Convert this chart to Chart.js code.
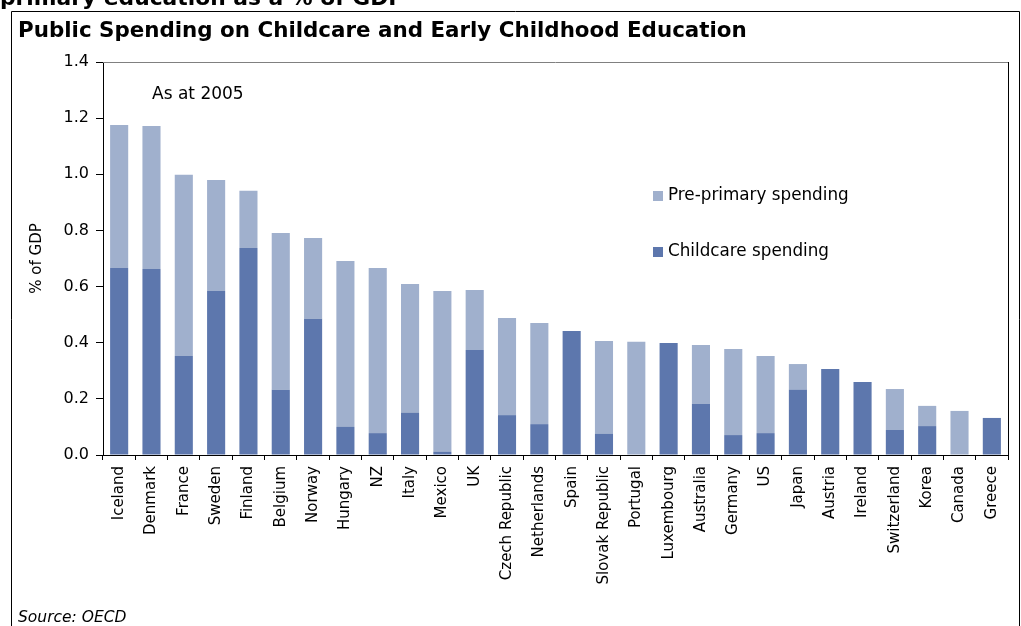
<!DOCTYPE html>
<html>
<head>
<meta charset="utf-8">
<script src="https://cdn.jsdelivr.net/npm/chart.js@4.4.1/dist/chart.umd.min.js"></script>
<style>
  html, body { margin: 0; padding: 0; background: #fff; }
  #wrap { width: 1021px; height: 626px; position: relative; }
</style>
</head>
<body>
<div id="wrap"><canvas id="c" width="1021" height="626"></canvas></div>
<script>
const countries = ["Iceland","Denmark","France","Sweden","Finland","Belgium","Norway","Hungary","NZ","Italy","Mexico","UK","Czech Republic","Netherlands","Spain","Slovak Republic","Portugal","Luxembourg","Australia","Germany","US","Japan","Austria","Ireland","Switzerland","Korea","Canada","Greece"];
const childcare = [0.666,0.663,0.353,0.584,0.737,0.232,0.485,0.100,0.078,0.150,0.011,0.374,0.142,0.110,0.442,0.075,0.000,0.399,0.182,0.071,0.078,0.232,0.306,0.260,0.089,0.103,0.000,0.132];
const prePrimary = [0.510,0.509,0.645,0.396,0.204,0.559,0.288,0.591,0.588,0.459,0.573,0.214,0.346,0.360,0.000,0.331,0.403,0.000,0.210,0.307,0.275,0.092,0.000,0.000,0.146,0.072,0.157,0.000];
const yTicks = [0.0,0.2,0.4,0.6,0.8,1.0,1.2,1.4];
const seriesNames = ["Childcare spending","Pre-primary spending"];
const chartTitle = "Public Spending on Childcare and Early Childhood Education";
const topCaption = "primary education as a % of GDP";
const noteText = "As at 2005";
const sourceText = "Source: OECD";
const yTitle = "% of GDP";

const DARK = "rgb(93,119,173)";
const LIGHT = "rgb(160,176,205)";
const FONT = "'DejaVu Sans', Verdana, sans-serif";

const decor = {
  id: "decor",
  afterDraw(chart) {
    const ctx = chart.ctx;
    const a = chart.chartArea;
    ctx.save();
    ctx.lineWidth = 1;
    ctx.strokeStyle = "#808080";
    ctx.beginPath(); ctx.moveTo(a.left, a.top + 0.5); ctx.lineTo(a.right, a.top + 0.5); ctx.stroke();
    ctx.strokeStyle = "#000";
    ctx.beginPath(); ctx.moveTo(a.right + 0.5, a.top); ctx.lineTo(a.right + 0.5, a.bottom); ctx.stroke();
    ctx.beginPath();
    ctx.moveTo(11.5, 640); ctx.lineTo(11.5, 11.5); ctx.lineTo(1019.5, 11.5); ctx.lineTo(1019.5, 640);
    ctx.stroke();
    ctx.fillStyle = "#000";
    ctx.textAlign = "left";
    ctx.textBaseline = "alphabetic";
    ctx.font = "bold 21.8px " + FONT;
    ctx.fillText(topCaption, 0, 5);
    ctx.font = "bold 21.4px " + FONT;
    ctx.fillText(chartTitle, 18, 37);
    ctx.font = "17px " + FONT;
    ctx.textBaseline = "middle";
    ctx.fillText(noteText, 152, 95);
    const ds = chart.data.datasets;
    const legendRows = [{d: ds[1], y: 196}, {d: ds[0], y: 252}];
    legendRows.forEach(r => {
      ctx.fillStyle = r.d.backgroundColor;
      ctx.fillRect(653, r.y - 5, 10, 10);
      ctx.fillStyle = "#000";
      ctx.font = "16.8px " + FONT;
      ctx.fillText(r.d.label, 668, r.y);
    });
    ctx.save();
    ctx.translate(37, (a.top + a.bottom) / 2);
    ctx.rotate(-Math.PI / 2);
    ctx.textAlign = "center";
    ctx.font = "15px " + FONT;
    ctx.fillText(yTitle, 0, 0);
    ctx.restore();
    ctx.font = "italic 15.5px " + FONT;
    ctx.textAlign = "left";
    ctx.textBaseline = "alphabetic";
    ctx.fillText(sourceText, 18, 622);
    ctx.restore();
  }
};

new Chart(document.getElementById("c"), {
  type: "bar",
  data: {
    labels: countries,
    datasets: [
      { label: seriesNames[0], data: childcare, backgroundColor: DARK, borderWidth: 0 },
      { label: seriesNames[1], data: prePrimary, backgroundColor: LIGHT, borderWidth: 0 }
    ]
  },
  options: {
    responsive: false,
    devicePixelRatio: 1,
    animation: false,
    layout: { padding: { left: 0, top: 62, right: 13, bottom: 0 } },
    plugins: { legend: { display: false }, tooltip: { enabled: false } },
    datasets: { bar: { categoryPercentage: 1.0, barPercentage: 0.56 } },
    scales: {
      x: {
        stacked: true,
        grid: { drawOnChartArea: false, drawTicks: true, tickLength: 5, color: "#000", offset: true },
        border: { display: true, color: "#000" },
        ticks: { autoSkip: false, minRotation: 90, maxRotation: 90, color: "#000", padding: 6, font: { family: FONT, size: 15 } },
        afterFit(s) { s.height = 171; }
      },
      y: {
        stacked: true,
        min: 0, max: 1.4,
        afterBuildTicks(s) { s.ticks = yTicks.map(v => ({ value: v })); },
        grid: { drawOnChartArea: false, drawTicks: true, tickLength: 7, color: "#000" },
        border: { display: true, color: "#000" },
        ticks: { color: "#000", padding: 7, font: { family: FONT, size: 16 }, callback: v => Number(v).toFixed(1) },
        afterFit(s) { s.width = 103; }
      }
    }
  },
  plugins: [decor]
});
</script>
</body>
</html>
